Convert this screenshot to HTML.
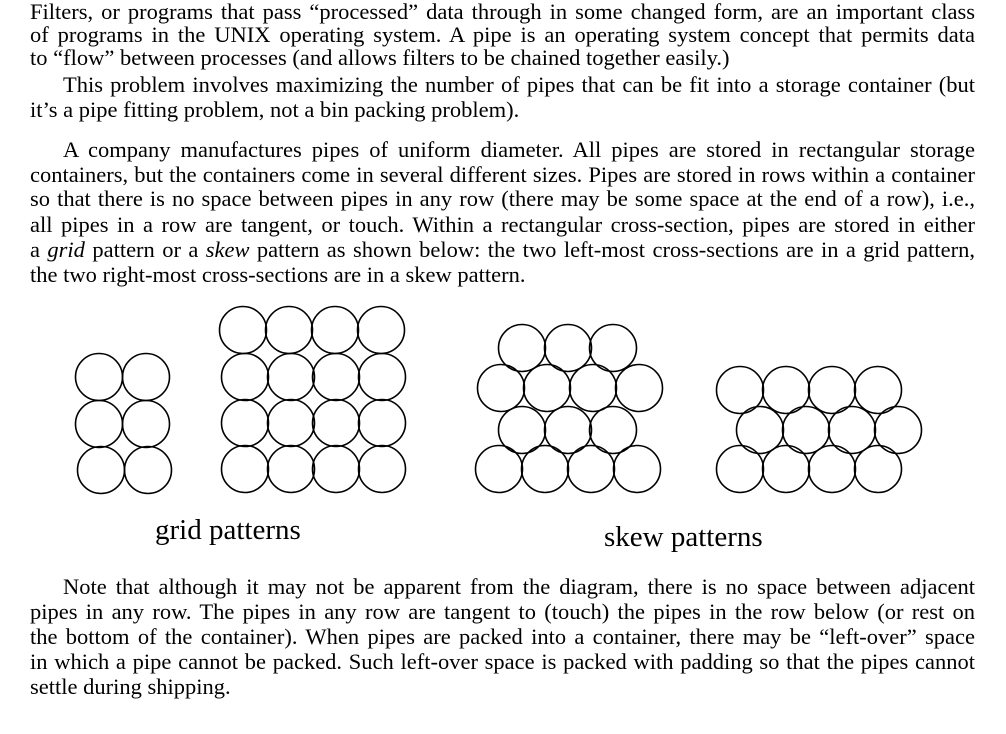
<!DOCTYPE html>
<html><head><meta charset="utf-8"><style>
html,body{margin:0;padding:0;background:#fff;}
body{width:1006px;height:734px;position:relative;overflow:hidden;font-family:"Liberation Serif",serif;font-size:22.5px;color:#000;}
.l{position:absolute;left:30px;width:945px;height:24px;line-height:24px;text-align:justify;text-align-last:justify;white-space:nowrap;word-spacing:-1px;}
.l.e{text-align-last:left;word-spacing:0;}
.l.i{left:63px;width:912px;}
.lab{position:absolute;font-size:29px;line-height:30px;white-space:nowrap;}
svg{position:absolute;left:0;top:0;}
</style></head><body>
<div class="l" style="top:0px">Filters, or programs that pass “processed” data through in some changed form, are an important class</div>
<div class="l" style="top:23px">of programs in the UNIX operating system. A pipe is an operating system concept that permits data</div>
<div class="l e" style="top:46px">to “flow” between processes (and allows filters to be chained together easily.)</div>
<div class="l i" style="top:73px">This problem involves maximizing the number of pipes that can be fit into a storage container (but</div>
<div class="l e" style="top:98px">it’s a pipe fitting problem, not a bin packing problem).</div>
<div class="l i" style="top:138px">A company manufactures pipes of uniform diameter. All pipes are stored in rectangular storage</div>
<div class="l" style="top:163px">containers, but the containers come in several different sizes. Pipes are stored in rows within a container</div>
<div class="l" style="top:187px">so that there is no space between pipes in any row (there may be some space at the end of a row), i.e.,</div>
<div class="l" style="top:213px">all pipes in a row are tangent, or touch. Within a rectangular cross-section, pipes are stored in either</div>
<div class="l" style="top:238px">a <i>grid</i> pattern or a <i>skew</i> pattern as shown below: the two left-most cross-sections are in a grid pattern,</div>
<div class="l e" style="top:263px">the two right-most cross-sections are in a skew pattern.</div>
<svg width="1006" height="734" fill="none" stroke="#000" stroke-width="1.6">
<g>
<circle cx="99" cy="377" r="23.5"/><circle cx="146" cy="377" r="23.5"/>
<circle cx="99" cy="424" r="23.5"/><circle cx="146" cy="424" r="23.5"/>
<circle cx="101" cy="470" r="23.5"/><circle cx="148" cy="470" r="23.5"/>
</g>
<g>
<circle cx="243" cy="330" r="23.5"/><circle cx="289" cy="330" r="23.5"/><circle cx="335" cy="330" r="23.5"/><circle cx="381" cy="330" r="23.5"/>
<circle cx="245" cy="377" r="23.5"/><circle cx="291" cy="377" r="23.5"/><circle cx="336" cy="377" r="23.5"/><circle cx="382" cy="377" r="23.5"/>
<circle cx="245" cy="423" r="23.5"/><circle cx="291" cy="423" r="23.5"/><circle cx="336" cy="423" r="23.5"/><circle cx="382" cy="423" r="23.5"/>
<circle cx="245" cy="469" r="23.5"/><circle cx="291" cy="469" r="23.5"/><circle cx="336" cy="469" r="23.5"/><circle cx="382" cy="469" r="23.5"/>
</g>
<g>
<circle cx="522" cy="348" r="23.5"/><circle cx="568" cy="348" r="23.5"/><circle cx="613" cy="348" r="23.5"/>
<circle cx="501" cy="388" r="23.5"/><circle cx="547" cy="388" r="23.5"/><circle cx="593" cy="388" r="23.5"/><circle cx="639" cy="388" r="23.5"/>
<circle cx="522" cy="430" r="23.5"/><circle cx="568" cy="430" r="23.5"/><circle cx="613" cy="430" r="23.5"/>
<circle cx="499" cy="469" r="23.5"/><circle cx="545" cy="469" r="23.5"/><circle cx="591" cy="469" r="23.5"/><circle cx="637" cy="469" r="23.5"/>
</g>
<g>
<circle cx="740" cy="390" r="23.5"/><circle cx="786" cy="390" r="23.5"/><circle cx="832" cy="390" r="23.5"/><circle cx="878" cy="390" r="23.5"/>
<circle cx="760" cy="430" r="23.5"/><circle cx="806" cy="430" r="23.5"/><circle cx="852" cy="430" r="23.5"/><circle cx="898" cy="430" r="23.5"/>
<circle cx="740" cy="469" r="23.5"/><circle cx="786" cy="469" r="23.5"/><circle cx="832" cy="469" r="23.5"/><circle cx="878" cy="469" r="23.5"/>
</g>
</svg>
<div class="lab" style="left:155px;top:515px">grid patterns</div>
<div class="lab" style="left:604px;top:522px">skew patterns</div>
<div class="l i" style="top:575px">Note that although it may not be apparent from the diagram, there is no space between adjacent</div>
<div class="l" style="top:600px">pipes in any row. The pipes in any row are tangent to (touch) the pipes in the row below (or rest on</div>
<div class="l" style="top:625px">the bottom of the container). When pipes are packed into a container, there may be “left-over” space</div>
<div class="l" style="top:650px">in which a pipe cannot be packed. Such left-over space is packed with padding so that the pipes cannot</div>
<div class="l e" style="top:675px">settle during shipping.</div>
</body></html>
